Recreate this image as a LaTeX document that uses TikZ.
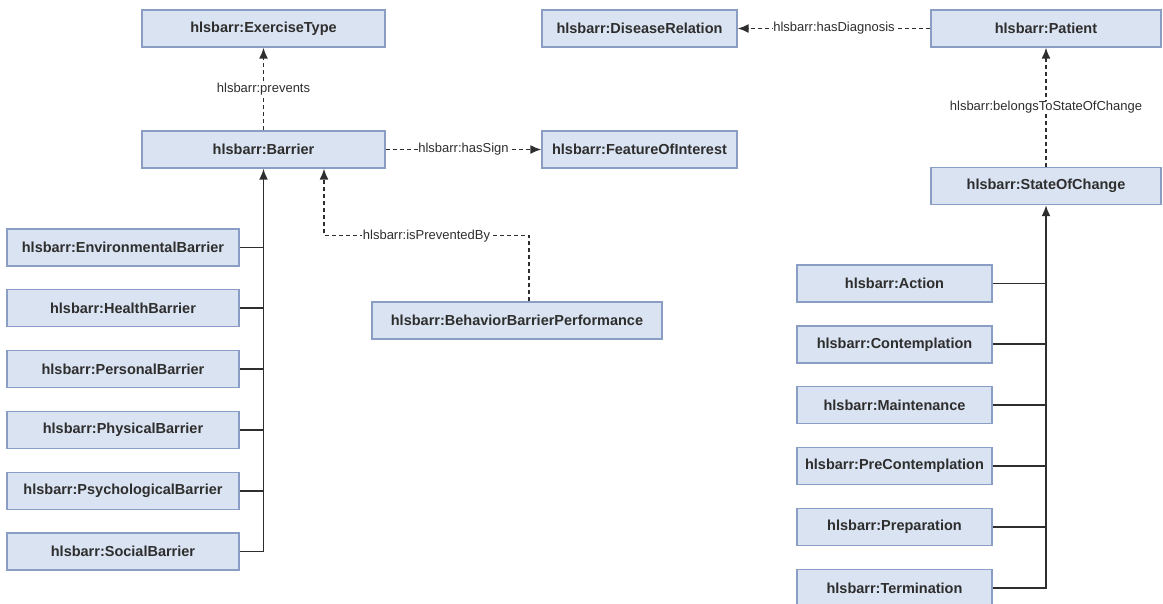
\documentclass[tikz,border=0pt]{standalone}
\usepackage{fontspec}
\setmainfont{Liberation Sans}
\usetikzlibrary{arrows.meta}
\definecolor{boxfill}{HTML}{DAE3F1}
\definecolor{boxline}{HTML}{8A9DC5}
\definecolor{ink}{HTML}{2E2E2E}
\tikzset{
  cls/.style={draw=boxline, fill=boxfill, line width=1.3pt, minimum height=37pt, inner sep=0pt,
    text=ink, font=\bfseries\fontsize{14.5}{17}\selectfont},
  rel/.style={draw=ink, line width=1.6pt, dash pattern=on 4pt off 3pt, -{Latex[length=11pt,width=9pt]}},
  isa/.style={draw=ink, line width=1.9pt},
  isarrow/.style={isa, -{Latex[length=11pt,width=9pt]}},
  lbl/.style={fill=white, inner sep=0.5pt, text=ink, font=\fontsize{13}{15}\selectfont}
}
\begin{document}
\begin{tikzpicture}[x=1pt, y=-1pt]
                \useasboundingbox (0, 0) rectangle (1163, 603);
                \node [cls, minimum width=243pt] (exercise) at (263.5, 28.5) {hlsbarr:ExerciseType};
                \node [cls, minimum width=195pt] (disease) at (639.5, 28.5) {hlsbarr:DiseaseRelation};
                \node [cls, minimum width=230pt] (patient) at (1046, 28.5) {hlsbarr:Patient};
                \node [cls, minimum width=243pt] (barrier) at (263.5, 149.5) {hlsbarr:Barrier};
                \node [cls, minimum width=195pt] (feature) at (639.5, 149.5) {hlsbarr:FeatureOfInterest};
                \node [cls, minimum width=230pt] (stateofchange) at (1046, 186) {hlsbarr:StateOfChange};
                \node [cls, minimum width=290pt] (performance) at (517, 320.5) {hlsbarr:BehaviorBarrierPerformance};
                \node [cls, minimum width=232pt] (environmental) at (123, 247.5) {hlsbarr:EnvironmentalBarrier};
                \node [cls, minimum width=232pt] (health) at (123, 308.3) {hlsbarr:HealthBarrier};
                \node [cls, minimum width=232pt] (personal) at (123, 369.1) {hlsbarr:PersonalBarrier};
                \node [cls, minimum width=232pt] (physical) at (123, 429.9) {hlsbarr:PhysicalBarrier};
                \node [cls, minimum width=232pt] (psychological) at (123, 490.7) {hlsbarr:PsychologicalBarrier};
                \node [cls, minimum width=232pt] (social) at (123, 551.5) {hlsbarr:SocialBarrier};
                \node [cls, minimum width=195pt] (action) at (894.5, 283.5) {hlsbarr:Action};
                \node [cls, minimum width=195pt] (contemplation) at (894.5, 344.4) {hlsbarr:Contemplation};
                \node [cls, minimum width=195pt] (maintenance) at (894.5, 405.3) {hlsbarr:Maintenance};
                \node [cls, minimum width=195pt] (precontemplation) at (894.5, 466.2) {hlsbarr:PreContemplation};
                \node [cls, minimum width=195pt] (preparation) at (894.5, 527.1) {hlsbarr:Preparation};
                \node [cls, minimum width=195pt] (termination) at (894.5, 588) {hlsbarr:Termination};
                \draw [rel] (barrier) -- node [lbl] {hlsbarr:prevents} (exercise);
                \draw [rel] (barrier) -- node [lbl] {hlsbarr:hasSign} (feature);
                \draw [rel] (patient) -- node [lbl] {hlsbarr:hasDiagnosis} (disease);
                \draw [rel] (stateofchange) -- node [lbl] {hlsbarr:belongsToStateOfChange} (patient);
                \draw [rel] ([xshift=12pt]performance.north) |- node [lbl, pos=0.75] {hlsbarr:isPreventedBy} ([xshift=60.5pt, yshift=-67pt]barrier.south) -- ([xshift=60.5pt]barrier.south);
                \draw [isarrow] (social.east) -| (barrier.south);
                \draw [isa] (environmental.east) -- (environmental.east -| barrier.south);
                \draw [isa] (health.east) -- (health.east -| barrier.south);
                \draw [isa] (personal.east) -- (personal.east -| barrier.south);
                \draw [isa] (physical.east) -- (physical.east -| barrier.south);
                \draw [isa] (psychological.east) -- (psychological.east -| barrier.south);
                \draw [isarrow] (termination.east) -| (stateofchange.south);
                \draw [isa] (action.east) -- (action.east -| stateofchange.south);
                \draw [isa] (contemplation.east) -- (contemplation.east -| stateofchange.south);
                \draw [isa] (maintenance.east) -- (maintenance.east -| stateofchange.south);
                \draw [isa] (precontemplation.east) -- (precontemplation.east -| stateofchange.south);
                \draw [isa] (preparation.east) -- (preparation.east -| stateofchange.south);
            \end{tikzpicture}
\end{document}
